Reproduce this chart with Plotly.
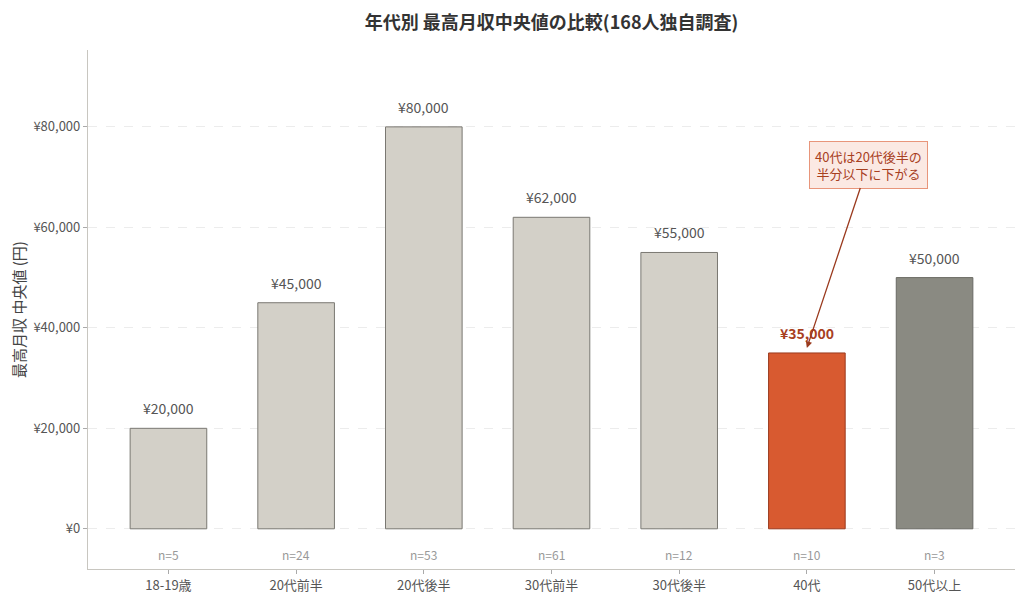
import plotly.graph_objects as go

age_groups = ["18-19歳", "20代前半", "20代後半", "30代前半", "30代後半", "40代", "50代以上"]
median_income = [20000, 45000, 80000, 62000, 55000, 35000, 50000]
sample_sizes = [5, 24, 53, 61, 12, 10, 3]
y_ticks = [0, 20000, 40000, 60000, 80000]

FONT = "Noto Sans CJK JP"
bar_colors = ["#d3d0c8"] * 5 + ["#d85a30", "#8a8a82"]
line_colors = ["#7a7872"] * 5 + ["#9a3a1e", "#6a6a64"]

x = list(range(len(age_groups)))

fig = go.Figure(go.Bar(
    x=x, y=median_income, width=0.6,
    marker=dict(color=bar_colors, line=dict(color=line_colors, width=1)),
    hoverinfo="skip",
))

for i, (v, n) in enumerate(zip(median_income, sample_sizes)):
    hi = age_groups[i] == "40代"
    fig.add_annotation(
        x=i, y=v, text=f"<b>¥{v:,}</b>" if hi else f"¥{v:,}",
        showarrow=False, yanchor="bottom", yshift=8,
        font=dict(family=FONT, size=14, color="#a8401f" if hi else "#555555"),
    )
    fig.add_annotation(
        x=i, y=-5200, text=f"n={n}", showarrow=False,
        font=dict(family=FONT, size=12, color="#999999"),
    )

fig.add_annotation(
    x=5, y=36000, ax=5.48, ay=72500, axref="x", ayref="y",
    text="40代は20代後半の<br>半分以下に下がる",
    showarrow=True, arrowhead=2, arrowsize=1, arrowwidth=1.3, arrowcolor="#9a3a1e",
    font=dict(family=FONT, size=13, color="#a8401f"),
    bgcolor="#fbe9e3", bordercolor="#e8957a", borderwidth=1, borderpad=5,
    standoff=0,
)

# the page body adds an 8px margin, so the figure is drawn 8px smaller
fig.update_layout(
    width=1016, height=594,
    margin=dict(l=80, r=9, t=42, b=33, autoexpand=False),
    plot_bgcolor="white", paper_bgcolor="white",
    font=dict(family=FONT, color="#555555"),
    title=dict(text="<b>年代別 最高月収中央値の比較(168人独自調査)</b>", x=0.535, xanchor="center",
               y=0.976, yanchor="middle", font=dict(family=FONT, size=18, color="#333333")),
    showlegend=False,
)
fig.update_xaxes(
    tickvals=x, ticktext=age_groups, range=[-0.63, 6.63],
    showline=True, linecolor="#c8c6c0", linewidth=1.2, automargin=False,
    ticks="outside", ticklen=4, tickcolor="#aaaaaa",
    tickfont=dict(family=FONT, size=13, color="#555555"), showgrid=False, zeroline=False,
)
fig.update_yaxes(
    tickvals=y_ticks, ticktext=[f"¥{t:,}" for t in y_ticks], range=[-8000, 95300],
    showline=True, linecolor="#c8c6c0", linewidth=1.2, automargin=False,
    ticks="outside", ticklen=4, tickcolor="#aaaaaa",
    tickfont=dict(family=FONT, size=13, color="#555555"),
    showgrid=True, gridcolor="#ececec", griddash="dash", gridwidth=1, zeroline=False,
    title=dict(text="最高月収 中央値 (円)", font=dict(family=FONT, size=15, color="#444444"), standoff=14),
)

fig.write_html("out.html")
